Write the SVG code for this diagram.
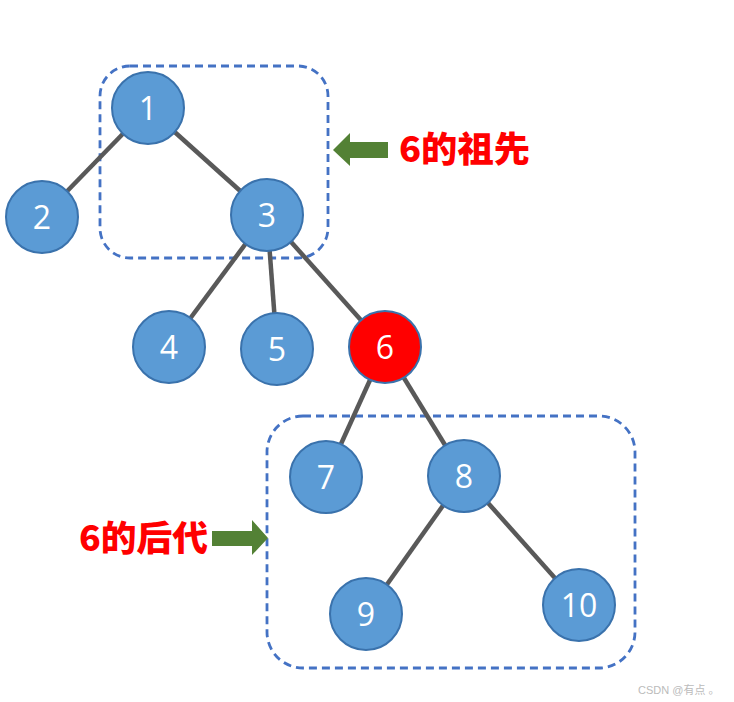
<svg xmlns="http://www.w3.org/2000/svg" width="734" height="702" viewBox="0 0 734 702">
<style>
.edge{stroke:#595959;stroke-width:4.5;fill:none}
.node circle{fill:#5B9BD5;stroke:#3A72AC;stroke-width:2}
.node.hl circle{fill:#FF0000}
.node text{fill:#fff;font-family:"Open Sans","Liberation Sans",sans-serif;font-size:32px;text-anchor:middle;dominant-baseline:central}
.grp{fill:none;stroke:#4472C4;stroke-width:2.8;stroke-dasharray:8 5}
.lbl{fill:#FF0000;font-family:"Noto Sans CJK SC","Liberation Sans",sans-serif;font-weight:900;font-size:35px}
.arrow{fill:#538135}
</style>
<rect width="734" height="702" fill="#fff"/>
<g id="groups">
<rect class="grp" x="100" y="66" width="228" height="192" rx="30"/>
<rect class="grp" x="267" y="416" width="368" height="252" rx="36"/>
</g>
<g id="connectors">
<line class="edge" x1="148" y1="108" x2="42" y2="217"/>
<line class="edge" x1="148" y1="108" x2="267" y2="215"/>
<line class="edge" x1="267" y1="215" x2="169" y2="347"/>
<line class="edge" x1="267" y1="215" x2="277" y2="349"/>
<line class="edge" x1="267" y1="215" x2="385" y2="347"/>
<line class="edge" x1="385" y1="347" x2="326" y2="477"/>
<line class="edge" x1="385" y1="347" x2="464" y2="476"/>
<line class="edge" x1="464" y1="476" x2="366" y2="614"/>
<line class="edge" x1="464" y1="476" x2="579" y2="605"/>
</g>
<g id="n1" class="node"><circle cx="148" cy="108" r="36"/><text x="148" y="107">1</text></g>
<g id="n2" class="node"><circle cx="42" cy="217" r="36"/><text x="42" y="216">2</text></g>
<g id="n3" class="node"><circle cx="267" cy="215" r="36"/><text x="267" y="214">3</text></g>
<g id="n4" class="node"><circle cx="169" cy="347" r="36"/><text x="169" y="346">4</text></g>
<g id="n5" class="node"><circle cx="277" cy="349" r="36"/><text x="277" y="348">5</text></g>
<g id="n6" class="node hl"><circle cx="385" cy="347" r="36"/><text x="385" y="346">6</text></g>
<g id="n7" class="node"><circle cx="326" cy="477" r="36"/><text x="326" y="476">7</text></g>
<g id="n8" class="node"><circle cx="464" cy="476" r="36"/><text x="464" y="475">8</text></g>
<g id="n9" class="node"><circle cx="366" cy="614" r="36"/><text x="366" y="613">9</text></g>
<g id="n10" class="node"><circle cx="579" cy="605" r="36"/><text x="579" y="604">10</text></g>
<g id="ancestors-label">
<polygon class="arrow" points="333,150 350,133 350,142 388,142 388,158 350,158 350,166"/>
<text class="lbl" x="399" y="162" textLength="131" lengthAdjust="spacingAndGlyphs">6的祖先</text>
</g>
<g id="descendants-label">
<polygon class="arrow" points="212,531 252,531 252,520 268,538 252,555 252,546 212,546"/>
<text class="lbl" x="79" y="551" textLength="129" lengthAdjust="spacingAndGlyphs">6的后代</text>
</g>
<text x="638" y="694" fill="#BBBBBB" font-family="'Liberation Sans','Noto Sans CJK SC',sans-serif" font-size="11">CSDN @有点 。</text>
</svg>
